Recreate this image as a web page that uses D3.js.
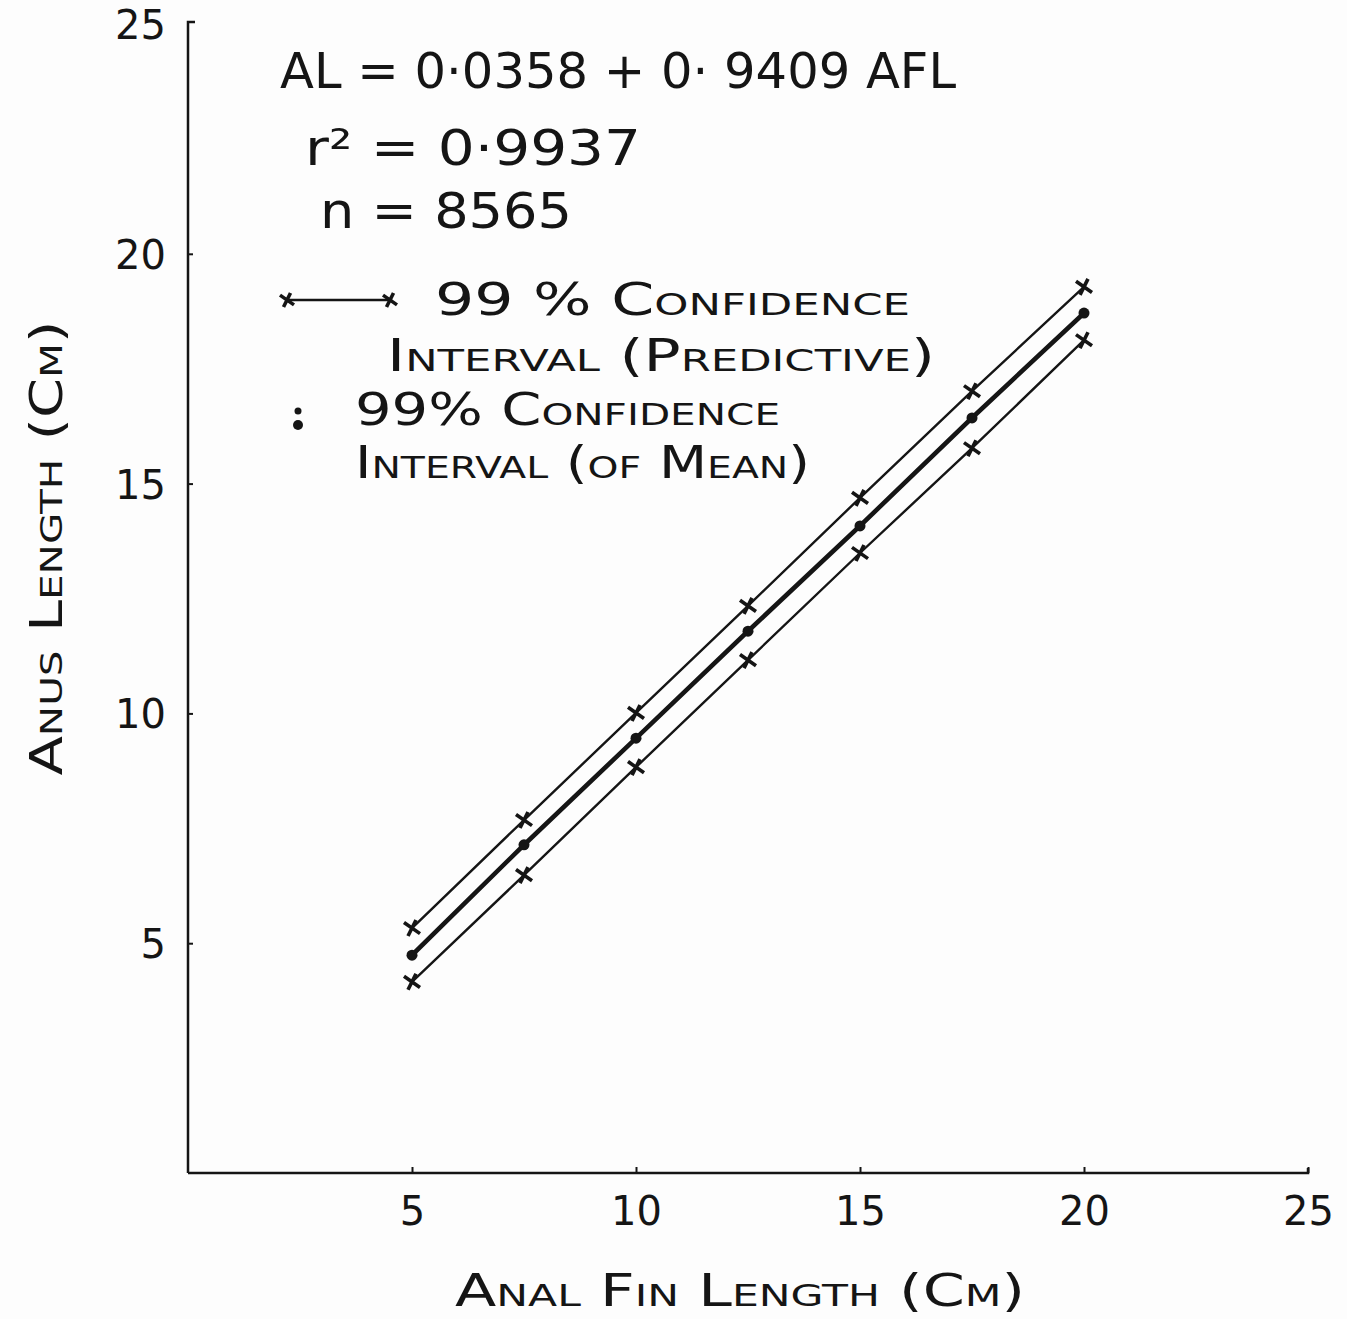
<!DOCTYPE html>
<html>
<head>
<meta charset="utf-8">
<script src="https://cdn.jsdelivr.net/npm/d3@7"></script>
<style>
  body { margin: 0; background: #fdfdfd; }
  svg { display: block; }
  text { font-family: "DejaVu Sans", "Liberation Sans", sans-serif; fill: #151515; }
</style>
</head>
<body>
<div class="chart"></div>
<script>
// values
const afl = [5, 7.5, 10, 12.5, 15, 17.5, 20];
const predUpper = [5.33, 7.68, 10.01, 12.34, 14.69, 17.01, 19.28];
const meanUpper = [4.77, 7.17, 9.49, 11.82, 14.11, 16.46, 18.74];
const meanLower = [4.71, 7.11, 9.43, 11.76, 14.05, 16.40, 18.68];
const predLower = [4.16, 6.48, 8.83, 11.16, 13.49, 15.77, 18.12];
const xTicks = [5, 10, 15, 20, 25];
const yTicks = [5, 10, 15, 20, 25];

const width = 1347, height = 1319;
const ink = '#151515';

const svg = d3.select('.chart').append('svg')
    .attr('width', width)
    .attr('height', height);

const x = d3.scaleLinear().domain([0, 25]).range([188, 1308]);
const y = d3.scaleLinear().domain([0, 25]).range([1173, 24]);

// x axis
const xAxis = svg.append('g')
    .attr('transform', 'translate(0,' + y(0) + ')')
    .call(d3.axisBottom(x).tickValues(xTicks).tickSizeInner(-6).tickSizeOuter(0).tickPadding(30));
xAxis.select('.domain').attr('stroke', ink).attr('stroke-width', 2.5)
    .attr('d', 'M' + x(0) + ',0H' + x(25) + 'v-5');
xAxis.selectAll('.tick line').attr('stroke', ink).attr('stroke-width', 2);
xAxis.selectAll('.tick text')
    .style('font-size', '40px')
    .attr('fill', ink)
    .attr('dy', '0.55em');

// y axis
const yAxis = svg.append('g')
    .attr('transform', 'translate(' + x(0) + ',0)')
    .call(d3.axisLeft(y).tickValues(yTicks).tickSizeInner(-5).tickSizeOuter(0).tickPadding(22));
yAxis.select('.domain').attr('stroke', ink).attr('stroke-width', 2.5)
    .attr('d', 'M0,' + y(0) + 'V' + (y(25) - 2) + 'h7');
yAxis.selectAll('.tick line').attr('stroke', ink).attr('stroke-width', 2);
yAxis.selectAll('.tick text')
    .style('font-size', '40px')
    .attr('fill', ink)
    .attr('dy', '0.36em');
yAxis.selectAll('.tick').filter(d => d === 25).select('line').remove();

// axis titles
svg.append('text')
    .attr('x', 740)
    .attr('y', 1306)
    .attr('text-anchor', 'middle')
    .style('font-size', '44px')
    .style('font-variant', 'small-caps')
    .attr('textLength', 570)
    .attr('lengthAdjust', 'spacingAndGlyphs')
    .text('Anal Fin Length (Cm)');

svg.append('text')
    .attr('transform', 'translate(62,548) rotate(-90)')
    .attr('text-anchor', 'middle')
    .style('font-size', '44px')
    .style('font-variant', 'small-caps')
    .attr('textLength', 455)
    .attr('lengthAdjust', 'spacingAndGlyphs')
    .text('Anus Length (Cm)');

// lines
const line = d3.line()
    .x((d, i) => x(afl[i]))
    .y(d => y(d));

const series = [
  { vals: predUpper, w: 2.4 },
  { vals: meanUpper, w: 2.6 },
  { vals: meanLower, w: 2.6 },
  { vals: predLower, w: 2.4 }
];

series.forEach(s => {
  svg.append('path')
      .datum(s.vals)
      .attr('d', line)
      .attr('fill', 'none')
      .attr('stroke', ink)
      .attr('stroke-width', s.w);
});

// markers
const cross = (g, cx, cy, r) => {
  g.append('path')
      .attr('d', 'M' + (cx - r) + ',' + (cy - r * 0.7) + 'L' + (cx + r) + ',' + (cy + r * 0.7) +
                 'M' + (cx - r * 0.5) + ',' + (cy + r) + 'L' + (cx + r * 0.5) + ',' + (cy - r))
      .attr('stroke', ink)
      .attr('stroke-width', 3.6)
      .attr('fill', 'none');
};

const marks = svg.append('g');
[predUpper, predLower].forEach(vals => {
  vals.forEach((v, i) => cross(marks, x(afl[i]), y(v), 8));
});
marks.selectAll('circle.mean')
    .data(afl)
    .enter().append('circle')
    .attr('class', 'mean')
    .attr('cx', d => x(d))
    .attr('cy', (d, i) => y((meanUpper[i] + meanLower[i]) / 2))
    .attr('r', 5.5)
    .attr('fill', ink);

// equation block
const note = svg.append('g').style('font-size', '50px');
note.append('text').attr('x', 280).attr('y', 88).attr('textLength', 676)
    .attr('lengthAdjust', 'spacingAndGlyphs')
    .text('AL = 0·0358 + 0· 9409 AFL');
note.append('text').attr('x', 305).attr('y', 165).attr('textLength', 336)
    .attr('lengthAdjust', 'spacingAndGlyphs')
    .text('r² = 0·9937');
note.append('text').attr('x', 320).attr('y', 228).attr('textLength', 252)
    .attr('lengthAdjust', 'spacingAndGlyphs')
    .text('n = 8565');

// legend
const leg = svg.append('g')
    .style('font-size', '44px')
    .style('font-variant', 'small-caps');
leg.append('line')
    .attr('x1', 287).attr('x2', 390).attr('y1', 300).attr('y2', 300)
    .attr('stroke', ink).attr('stroke-width', 2.5);
cross(leg, 287, 300, 7);
cross(leg, 390, 300, 7);
leg.append('text').attr('x', 435).attr('y', 315).attr('textLength', 475)
    .attr('lengthAdjust', 'spacingAndGlyphs')
    .text('99 % Confidence');
leg.append('text').attr('x', 387).attr('y', 371).attr('textLength', 548)
    .attr('lengthAdjust', 'spacingAndGlyphs')
    .text('Interval (Predictive)');
leg.append('circle').attr('cx', 298).attr('cy', 411).attr('r', 3.5).attr('fill', ink);
leg.append('circle').attr('cx', 298).attr('cy', 425).attr('r', 5).attr('fill', ink);
leg.append('text').attr('x', 355).attr('y', 425).attr('textLength', 425)
    .attr('lengthAdjust', 'spacingAndGlyphs')
    .text('99% Confidence');
leg.append('text').attr('x', 355).attr('y', 478).attr('textLength', 455)
    .attr('lengthAdjust', 'spacingAndGlyphs')
    .text('Interval (of Mean)');
</script>
</body>
</html>
